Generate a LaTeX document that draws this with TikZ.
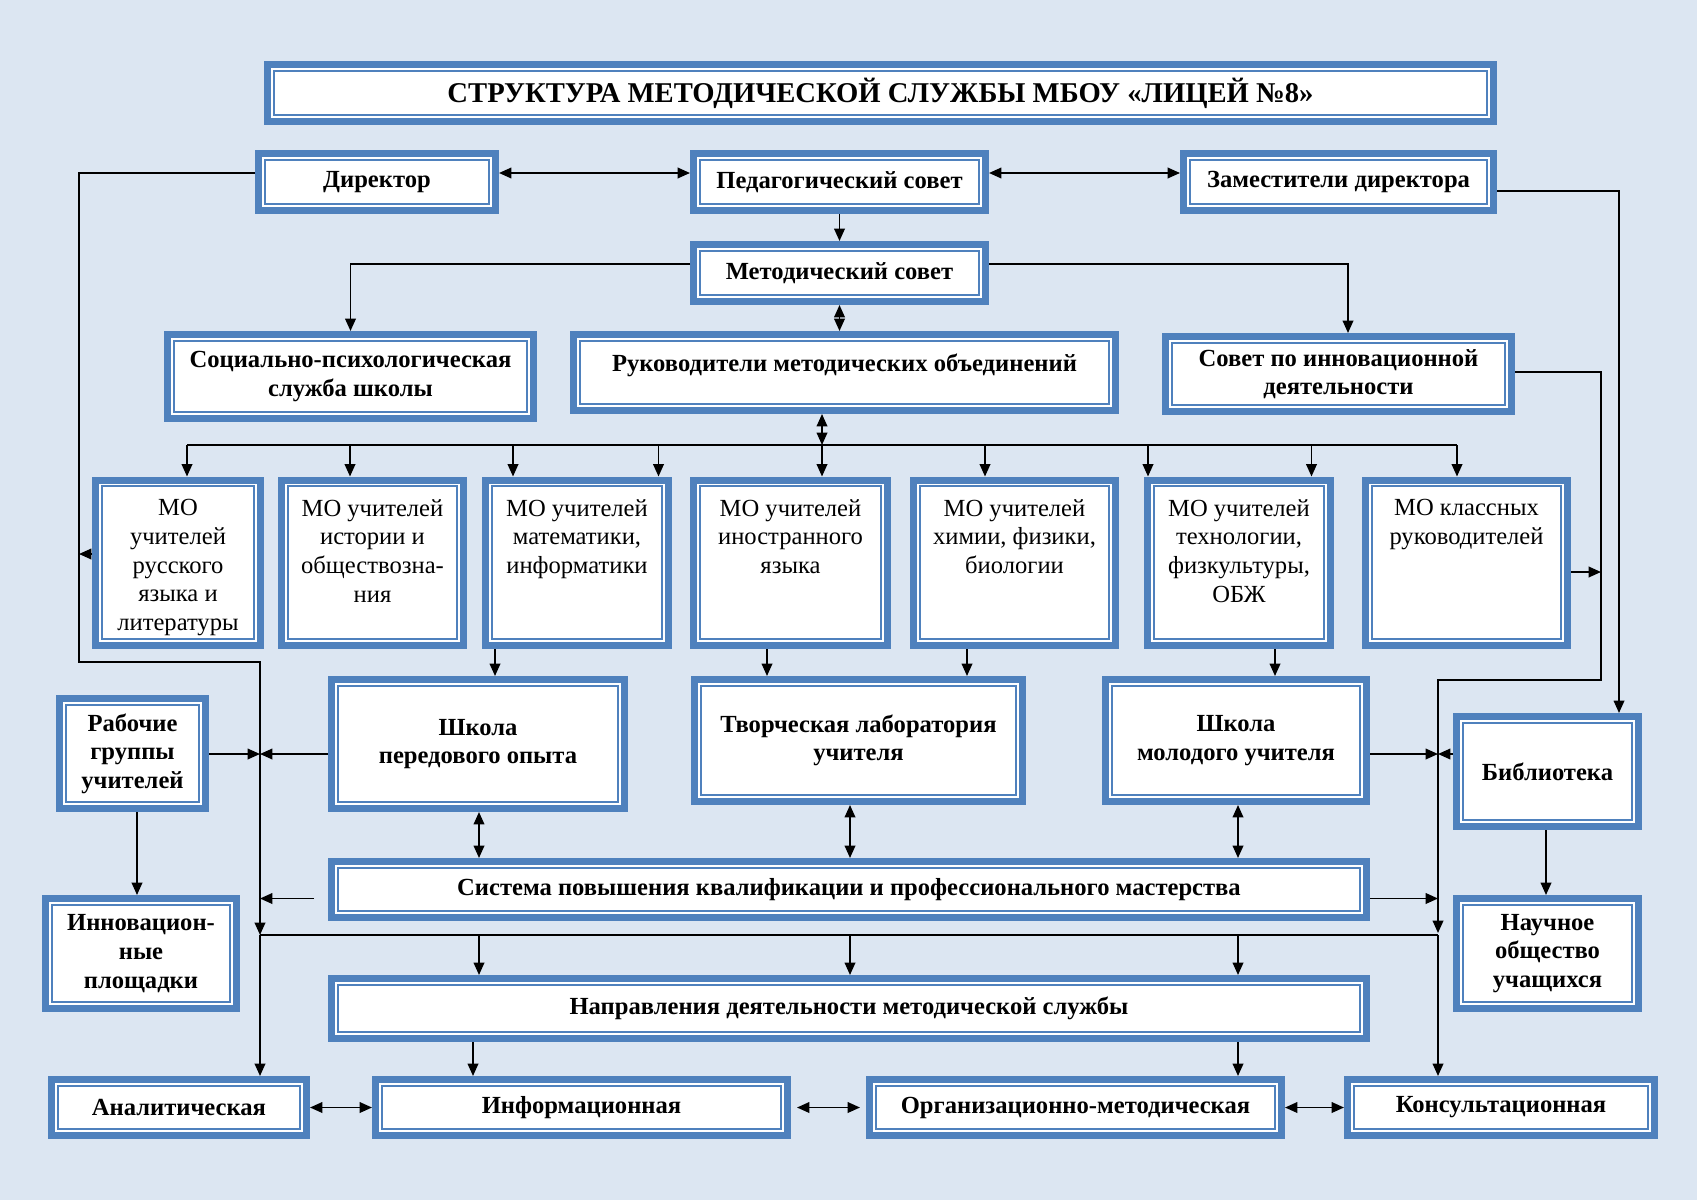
\documentclass[tikz,border=0pt]{standalone}
\usepackage{fontspec}
\setmainfont{Liberation Serif}
\usepackage{tikz}
\usetikzlibrary{arrows.meta}
\definecolor{boxblue}{RGB}{79,129,189}
\definecolor{paleblue}{RGB}{220,230,242}
\newcommand{\motx}[2]{\parbox[c][92pt][t]{#1}{\centering\vspace*{10pt}#2}}

\begin{document}
\begin{tikzpicture}[x=0.02cm, y=-0.02cm,
    >={Triangle[length=7pt,width=6pt]},
    pbox/.style={draw=boxblue, line width=4pt, fill=white, outer sep=2pt,
      inner sep=1pt, align=center, font=\bfseries\fontsize{14}{16.3}\selectfont,
      path picture={\draw[boxblue, line width=1.2pt]
        ([shift={(3.6pt,3.6pt)}]path picture bounding box.south west) rectangle
        ([shift={(-3.6pt,-3.6pt)}]path picture bounding box.north east);}},
    sz/.style 2 args={minimum width=#1*0.02cm-4pt, minimum height=#2*0.02cm-4pt},
    mo/.style={pbox, inner sep=0pt, font=\fontsize{14}{16.3}\selectfont},
    ln/.style={line width=1pt}]
    \fill [paleblue] (0,0) rectangle (1697,1200) ;
    \useasboundingbox (0,0) rectangle (1697,1200) ;
    \def\moy{562.75}
    % boxes
    \node [pbox, sz={1233}{64}, font=\bfseries\fontsize{16.3}{19}\selectfont] (title) at (880.5,93)
      {СТРУКТУРА МЕТОДИЧЕСКОЙ СЛУЖБЫ МБОУ «ЛИЦЕЙ №8»} ;
    \node [pbox, sz={244}{64}] (dir) at (377,182) {Директор} ;
    \node [pbox, sz={299}{64}] (ped) at (839.5,182) {Педагогический совет} ;
    \node [pbox, sz={317}{64}] (zam) at (1338.5,182) {Заместители директора} ;
    \node [pbox, sz={299}{64}] (met) at (839.5,273) {Методический совет} ;
    \node [pbox, sz={373}{91}] (soc) at (350.5,376.5) {Социально-психологическая\\служба школы} ;
    \node [pbox, sz={549}{83}, text depth=11pt] (ruk) at (844.5,372.5) {Руководители методических объединений} ;
    \node [pbox, sz={353}{82}] (inn) at (1338.5,374) {Совет по инновационной\\деятельности} ;
    \node [mo, sz={172}{172.5}] (mo1) at (178,\moy) {\motx{88pt}{МО\\учителей\\русского\\языка и\\литературы}} ;
    \node [mo, sz={189}{172.5}] (mo2) at (372.5,\moy) {\motx{100pt}{МО учителей\\истории и\\обществозна-\\ния}} ;
    \node [mo, sz={190}{172.5}] (mo3) at (577,\moy) {\motx{100pt}{МО учителей\\математики,\\информатики}} ;
    \node [mo, sz={201}{172.5}] (mo4) at (790.5,\moy) {\motx{105pt}{МО учителей\\иностранного\\языка}} ;
    \node [mo, sz={209}{172.5}] (mo5) at (1014.5,\moy) {\motx{110pt}{МО учителей\\химии, физики,\\биологии}} ;
    \node [mo, sz={190}{172.5}] (mo6) at (1239,\moy) {\motx{100pt}{МО учителей\\технологии,\\физкультуры,\\ОБЖ}} ;
    \node [mo, sz={209}{172.5}] (mo7) at (1466.5,\moy) {\motx{110pt}{МО классных\\руководителей}} ;
    \node [pbox, sz={153}{117}] (rab) at (132.5,753.5) {Рабочие\\группы\\учителей} ;
    \node [pbox, sz={300}{136}] (shp) at (478,744) {Школа\\передового опыта} ;
    \node [pbox, sz={335}{129}] (tvl) at (858.5,740.5) {Творческая лаборатория\\учителя} ;
    \node [pbox, sz={268}{129}] (shm) at (1236,740.5) {Школа\\молодого учителя} ;
    \node [pbox, sz={189}{117}] (bib) at (1547.5,771.5) {Библиотека} ;
    \node [pbox, sz={1042}{63}] (sis) at (849,889.5)
      {Система повышения квалификации и профессионального мастерства} ;
    \node [pbox, sz={198}{117}] (inp) at (141,953.5) {Инновацион-\\ные\\площадки} ;
    \node [pbox, sz={189}{117}] (nou) at (1547.5,953.5) {Научное\\общество\\учащихся} ;
    \node [pbox, sz={1042}{67}] (nap) at (849,1008.5) {Направления деятельности методической службы} ;
    \node [pbox, sz={262}{63}] (ana) at (179,1107.5) {Аналитическая} ;
    \node [pbox, sz={419}{63}] (inf) at (581.5,1107.5) {Информационная} ;
    \node [pbox, sz={419}{63}] (org) at (1075.5,1107.5) {Организационно-методическая} ;
    \node [pbox, sz={314}{63}] (kon) at (1501,1107.5) {Консультационная} ;
    % top part
    \draw [ln,<->] (dir.east |- 0,173) -- (ped.west |- 0,173) ;
    \draw [ln,<->] (ped.east |- 0,173) -- (zam.west |- 0,173) ;
    \draw [ln,->] (ped.south) -- (met.north) ;
    \draw [ln,->] (met.west |- 0,264) -| (soc.north) ;
    \draw [ln,->] (met.east |- 0,264) -| (1348,0 |- inn.north) ;
    \draw [ln,<->] (met.south) -- (met.south |- ruk.north) ;
    \draw [ln,<->] (822,0 |- ruk.south) -- (822,445) ;
    \draw [ln] (187,445) -- (1457,445) ;
    \foreach \x/\t in {187/mo1, 350/mo2, 513/mo3, 658.5/mo3, 822/mo4,
      985/mo5, 1148/mo6, 1311.5/mo6, 1457/mo7}
      \draw [ln,->] (\x,445) -- (\x,0 |- \t.north) ;
    % left side
    \draw [ln,->] (dir.west |- 0,173) -| (79,662) -| (260,935) ;
    \draw [ln,->] (mo1.west |- 0,554) -- (79,554) ;
    \draw [ln,->] (rab.east |- 0,754) -- (260,754) ;
    \draw [ln,->] (shp.west |- 0,754) -- (260,754) ;
    \draw [ln,->] (137,0 |- rab.south) -- (137,0 |- inp.north) ;
    \draw [ln,->, shorten <=14*0.02cm] (sis.west |- 0,898.5) -- (260,898.5) ;
    \draw [ln,->] (260,935) -- (260,0 |- ana.north) ;
    % middle
    \draw [ln,->] (495,0 |- mo3.south) -- (495,0 |- shp.north) ;
    \draw [ln,->] (767,0 |- mo4.south) -- (767,0 |- tvl.north) ;
    \draw [ln,->] (967,0 |- mo5.south) -- (967,0 |- tvl.north) ;
    \draw [ln,->] (1275,0 |- mo6.south) -- (1275,0 |- shm.north) ;
    \draw [ln,<->] (479,0 |- shp.south) -- (479,0 |- sis.north) ;
    \draw [ln,<->] (850,0 |- tvl.south) -- (850,0 |- sis.north) ;
    \draw [ln,<->] (1238,0 |- shm.south) -- (1238,0 |- sis.north) ;
    \draw [ln] (260,935) -- (1438,935) ;
    \foreach \x in {479, 850, 1238}
      \draw [ln,->] (\x,935) -- (\x,0 |- nap.north) ;
    \draw [ln,->] (473,0 |- nap.south) -- (473,0 |- inf.north) ;
    \draw [ln,->] (1238,0 |- nap.south) -- (1238,0 |- org.north) ;
    \draw [ln,<->] (ana.east) -- (inf.west) ;
    \draw [ln,<->, shorten <=6*0.02cm, shorten >=6*0.02cm] (inf.east) -- (org.west) ;
    \draw [ln,<->] (org.east) -- (kon.west) ;
    % right side
    \draw [ln,->] (zam.east |- 0,191) -| (1619,0 |- bib.north) ;
    \draw [ln,->] (inn.east |- 0,372) -| (1601,680) -| (1438,933) ;
    \draw [ln,->] (mo7.east |- 0,572) -- (1601,572) ;
    \draw [ln,->] (shm.east |- 0,754) -- (1438,754) ;
    \draw [ln,->] (bib.west |- 0,754) -- (1438,754) ;
    \draw [ln,->] (sis.east |- 0,898.5) -- (1438,898.5) ;
    \draw [ln,->] (1438,935) -- (1438,0 |- kon.north) ;
    \draw [ln,->] (1546,0 |- bib.south) -- (1546,0 |- nou.north) ;
  \end{tikzpicture}
\end{document}
